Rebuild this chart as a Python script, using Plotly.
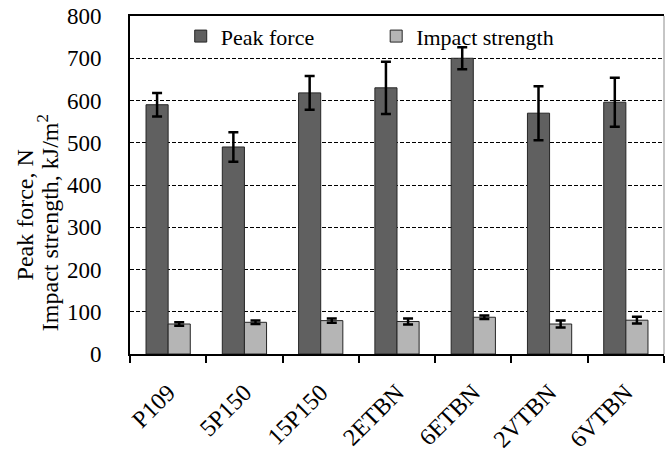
import plotly.graph_objects as go

# Sample names along the x axis
samples = ["P109", "5P150", "15P150", "2ETBN", "6ETBN", "2VTBN", "6VTBN"]

# Peak force (N) with standard deviation
peak_force = [590, 490, 618, 630, 700, 570, 596]
peak_force_err = [28, 35, 40, 62, 26, 64, 58]

# Impact strength (kJ/m2) with standard deviation
impact_strength = [71, 75, 79, 77, 87, 71, 80]
impact_strength_err = [4, 4, 5, 7, 4, 8, 8]

y_ticks = [0, 100, 200, 300, 400, 500, 600, 700, 800]

FONT = "Liberation Serif"

fig = go.Figure()

fig.add_trace(go.Bar(
    x=samples, y=peak_force, name="Peak force", showlegend=True,
    marker=dict(color="#606060", line=dict(color="#262626", width=1)),
    error_y=dict(type="data", array=peak_force_err, color="black",
                 thickness=2.5, width=5),
    legend="legend",
))
fig.add_trace(go.Bar(
    x=samples, y=impact_strength, name="Impact strength", showlegend=True,
    marker=dict(color="#b5b5b5", line=dict(color="#262626", width=1)),
    error_y=dict(type="data", array=impact_strength_err, color="black",
                 thickness=2.5, width=5),
    legend="legend2",
))

legend_style = dict(orientation="h", yanchor="middle", xanchor="left",
                    bgcolor="rgba(0,0,0,0)", font=dict(family=FONT, size=22, color="black"))

fig.update_layout(
    width=671, height=452,
    margin=dict(l=130, r=7, t=16, b=98, autoexpand=False),
    paper_bgcolor="white", plot_bgcolor="white",
    showlegend=True,
    barmode="group", bargap=0.42, bargroupgap=0,
    font=dict(family=FONT, size=22, color="black"),
    legend=dict(x=0.095, y=0.94, **legend_style),
    legend2=dict(x=0.461, y=0.94, **legend_style),
    xaxis=dict(
        type="category", showline=True, mirror=True, linecolor="black", linewidth=2,
        ticks="outside", tickson="boundaries", ticklen=7, tickwidth=2, tickcolor="black",
        tickangle=-45, showgrid=False, tickfont=dict(family=FONT, size=24),
        ticklabelstandoff=13, automargin=False,
    ),
    yaxis=dict(
        range=[0, 800], tickvals=y_ticks, showgrid=True, gridcolor="black", gridwidth=1,
        griddash="4px,2px", zeroline=False, showline=True, linecolor="black", linewidth=2,
        ticks="", ticklabelstandoff=22, tickfont=dict(family=FONT, size=23),
        automargin=False,
    ),
    shapes=[dict(type="line", xref="paper", yref="paper", x0=1, x1=1, y0=0, y1=1,
                 line=dict(color="#8c8c8c", width=1))],
    annotations=[
        dict(text="Peak force, N", xref="paper", yref="paper", x=-0.1966, y=0.41,
             xanchor="center", yanchor="middle", textangle=-90, showarrow=False,
             font=dict(family=FONT, size=24)),
        dict(text="Impact strength, kJ/m<sup>2</sup>", xref="paper", yref="paper",
             x=-0.1536, y=0.39, xanchor="center", yanchor="middle", textangle=-90,
             showarrow=False, font=dict(family=FONT, size=24)),
    ],
)

fig.write_html("out.html")
